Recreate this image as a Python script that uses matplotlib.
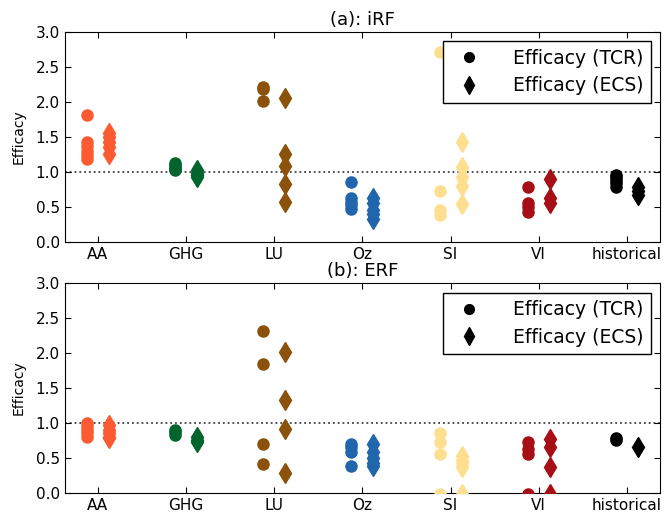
import matplotlib
matplotlib.use("Agg")
import matplotlib.pyplot as plt
from matplotlib.lines import Line2D

categories = ["AA", "GHG", "LU", "Oz", "SI", "VI", "historical"]
colors = ["#fd5a32", "#00652c", "#8c510a", "#2166ac", "#fedf90", "#a50f15", "black"]

# (a) iRF
irf_tcr = [
    [1.81, 1.43, 1.37, 1.30, 1.24, 1.18],
    [1.13, 1.10, 1.07, 1.04, 1.03],
    [2.21, 2.18, 2.01],
    [0.86, 0.62, 0.57, 0.52, 0.47],
    [2.72, 0.73, 0.45, 0.38],
    [0.78, 0.56, 0.50, 0.43],
    [0.96, 0.92, 0.88, 0.84, 0.78],
]
irf_ecs = [
    [1.56, 1.50, 1.43, 1.36, 1.25],
    [1.02, 0.98, 0.95, 0.93],
    [2.05, 1.26, 1.08, 0.83, 0.57],
    [0.62, 0.55, 0.45, 0.40, 0.33],
    [1.42, 1.07, 0.93, 0.80, 0.54],
    [0.90, 0.62, 0.55],
    [0.78, 0.72, 0.67],
]

# (b) ERF
erf_tcr = [
    [1.00, 0.95, 0.90, 0.85, 0.80],
    [0.90, 0.87, 0.83],
    [2.32, 1.84, 0.70, 0.41],
    [0.70, 0.66, 0.58, 0.38],
    [0.85, 0.73, 0.55, -0.02],
    [0.72, 0.62, 0.56, -0.02],
    [0.79, 0.75],
]
erf_ecs = [
    [0.97, 0.90, 0.85, 0.80, 0.78],
    [0.80, 0.76, 0.72],
    [2.01, 1.33, 0.91, 0.28],
    [0.70, 0.58, 0.50, 0.42, 0.38],
    [0.52, 0.47, 0.42, 0.37, -0.02],
    [0.77, 0.66, 0.37, -0.02],
    [0.65],
]

plt.rcParams["xtick.direction"] = "in"
plt.rcParams["ytick.direction"] = "in"
plt.rcParams["xtick.top"] = True
plt.rcParams["ytick.right"] = True
plt.rcParams["xtick.major.size"] = 4
plt.rcParams["ytick.major.size"] = 4

fig = plt.figure(figsize=(6.67, 5.18), dpi=100)
ax_a = fig.add_axes([0.097, 0.5334, 0.8925, 0.4048])
ax_b = fig.add_axes([0.097, 0.0488, 0.8925, 0.4043])

for ax, tcr, ecs, title in [
    (ax_a, irf_tcr, irf_ecs, "(a): iRF"),
    (ax_b, erf_tcr, erf_ecs, "(b): ERF"),
]:
    ax.axhline(1.0, color="0.25", linestyle=":", linewidth=1.3, zorder=1)
    for i, cat in enumerate(categories):
        ax.plot([i] * len(tcr[i]), tcr[i], "o", color=colors[i],
                markeredgecolor=colors[i], markersize=8, zorder=3)
        ax.plot([i + 0.25] * len(ecs[i]), ecs[i], "d", color=colors[i],
                markeredgecolor=colors[i], markersize=10, zorder=3)
    ax.set_xlim(-0.25, 6.5)
    ax.set_ylim(0, 3.0)
    ax.set_yticks([0.0, 0.5, 1.0, 1.5, 2.0, 2.5, 3.0])
    ax.set_xticks([i + 0.125 for i in range(len(categories))])
    ax.set_xticklabels(categories, fontsize=11)
    ax.tick_params(axis="y", labelsize=11)
    ax.set_ylabel("Efficacy", fontsize=10, labelpad=7)
    ax.set_title(title, fontsize=13, pad=5)
    handles = [
        Line2D([], [], marker="o", color="black", linestyle="none", markersize=7),
        Line2D([], [], marker="d", color="black", linestyle="none", markersize=9),
    ]
    leg = ax.legend(handles, ["Efficacy (TCR)", "Efficacy (ECS)"],
                    loc="upper right", fontsize=13.5, numpoints=1,
                    fancybox=False, framealpha=1, borderaxespad=0.5,
                    handletextpad=1.3, borderpad=0.4, labelspacing=0.45)
    leg.get_frame().set_edgecolor("black")

fig.savefig("out.png", dpi=100)
